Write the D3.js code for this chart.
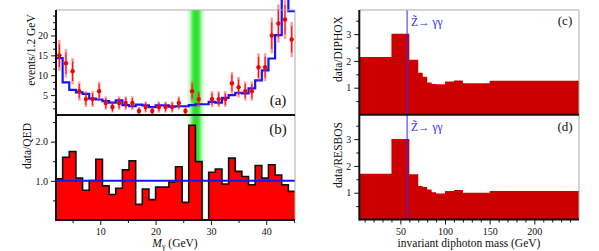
<!DOCTYPE html>
<html lang="en">
<head>
<meta charset="UTF-8">
<title>Diphoton mass spectra</title>
<script src="https://cdn.jsdelivr.net/npm/d3@7"></script>
<style>
    * { margin: 0; padding: 0; }
    body { background: #fff; }
    svg text { font-family: "Liberation Serif", "DejaVu Serif", serif; fill: #111; }
</style>
</head>
<body>
<svg id="chart" width="599" height="251"></svg>
<script>
    // left panels: M_gamma in 1.2 GeV bins
    const massEdges = [2.0,3.2,4.4,5.6,6.8,8.0,9.2,10.4,11.6,12.8,14.0,15.2,16.4,17.6,18.8,20.0,21.2,22.4,23.6,24.8,
                       26.0,27.2,28.4,29.6,30.8,32.0,33.2,34.4,35.6,36.8,38.0,39.2,40.4,41.6,42.8,44.0,45.2];
    const eventCounts = [15,13,11,6,4,4,6,3,2,3,3,3,1,2,1,2,2,2,3,1,6,4,0,4,4,4,8,7,6,6,12,12,20,23,24,19];
    const countErrors = [3.9,3.6,3.3,2.4,2.0,2.0,2.4,1.7,1.4,1.7,1.7,1.7,1.0,1.4,1.0,1.4,1.4,1.4,1.7,1.0,
                         2.4,2.0,0,2.0,2.0,2.0,2.8,2.6,2.4,2.4,3.5,3.5,4.5,4.8,4.9,4.4];
    const qedPrediction = [14.3,8.2,6.3,5.7,5.3,4.1,3.9,3.5,3.1,3.7,2.5,2.2,2.6,2.4,2.0,2.4,2.4,2.1,2.2,2.2,
                           2.5,2.7,2.7,3.3,3.1,4.3,5.0,5.6,5.4,6.7,8.7,11.2,14.2,20.1,30,26.1];
    const dataOverQed = [1.05,1.60,1.75,1.07,0.76,1.01,1.55,0.87,0.65,0.81,1.28,1.51,0.40,0.79,0.52,0.84,0.84,0.97,
                         1.36,0.45,2.42,1.49,0,1.22,1.30,0.92,1.58,1.24,1.11,0.90,1.39,1.07,1.41,1.15,0.90,0.73];
    const bandCenter = 27.3;
    const bandHalfWidth = 1.75;

    const massTicks = [10, 20, 30, 40];
    const massMinorTicks = [5, 15, 25, 35, 45];
    const eventTicks = [5, 10, 15, 20];
    const eventMinorTicks = [1.67, 3.33, 6.67, 8.33, 11.67, 13.33, 16.67, 18.33, 21.67, 23.33, 25];
    const qedRatioTicks = [1, 2];
    const qedRatioLabels = ['1.0', '2.0'];
    const qedRatioMinorTicks = [0.5, 1.5, 2.5];

    // right panels: invariant diphoton mass
    const diphotonEdges = [4, 40, 60, 70, 75, 80, 85, 90, 100, 110, 120, 150, 250];
    const dataOverDiphox = [2.15, 3.01, 2.04, 1.56, 1.41, 1.19, 1.14, 1.13, 1.23, 1.27, 1.17, 1.26];
    const dataOverResbos = [1.71, 3.00, 1.69, 1.25, 1.21, 1.12, 1.02, 0.97, 1.06, 1.10, 1.00, 1.06];
    const zTildeMass = 57.5;

    const diphotonTicks = [50, 100, 150, 200];
    const diphotonMinorTicks = [10, 20, 30, 40, 60, 70, 80, 90, 110, 120, 130, 140, 160, 170, 180, 190, 210, 220, 230, 240];
    const rightRatioTicks = [1, 2, 3];
    const rightRatioMinorTicks = [0.5, 1.5, 2.5, 3.5];

    const svg = d3.select('#chart');

    const xL = d3.scaleLinear([2, 45.2], [56, 295]);
    const yA = d3.scaleLinear([0, 26.4], [115, 10]);
    const yB = d3.scaleLinear([0, 2.68], [220, 115]);
    const xR = d3.scaleLinear([4, 250], [359.3, 579]);
    const yC = d3.scaleLinear([0, 3.9], [114.5, 10]);
    const yD = d3.scaleLinear([0, 3.9], [219.5, 115]);

    // step helpers: one point per lower edge, plus the last upper edge
    function stepPoints(edges, vals) {
        const pts = vals.map((v, i) => [edges[i], v]);
        pts.push([edges[edges.length - 1], vals[vals.length - 1]]);
        return pts;
    }
    function stepLine(x, y) {
        return d3.line().curve(d3.curveStepAfter).x(d => x(d[0])).y(d => y(d[1]));
    }
    function stepArea(x, y) {
        return d3.area().curve(d3.curveStepAfter).x(d => x(d[0])).y0(y(0)).y1(d => y(d[1]));
    }

    // green band gradient
    const defs = svg.append('defs');
    const grad = defs.append('linearGradient').attr('id', 'band').attr('x1', 0).attr('x2', 1).attr('y1', 0).attr('y2', 0);
    [[0, 0], [0.18, 0.25], [0.35, 0.85], [0.5, 1], [0.65, 0.85], [0.82, 0.25], [1, 0]].forEach(s => {
        grad.append('stop').attr('offset', s[0]).attr('stop-color', '#22e022').attr('stop-opacity', s[1]);
    });

    svg.append('rect')
        .attr('x', xL(bandCenter - bandHalfWidth))
        .attr('width', xL(bandCenter + bandHalfWidth) - xL(bandCenter - bandHalfWidth))
        .attr('y', 10).attr('height', 210)
        .attr('fill', 'url(#band)');

    // (a) QED prediction
    svg.append('path')
        .attr('d', stepLine(xL, yA)(stepPoints(massEdges, qedPrediction)))
        .attr('fill', 'none').attr('stroke', '#1414ff').attr('stroke-width', 2.2);

    // (a) data points with errors
    const centers = eventCounts.map((c, i) => (massEdges[i] + massEdges[i + 1]) / 2);
    const pts = svg.append('g');
    eventCounts.forEach((c, i) => {
        if (c === 0) return;
        const cx = xL(centers[i]);
        pts.append('line').attr('x1', cx).attr('x2', cx)
            .attr('y1', yA(c - countErrors[i])).attr('y2', yA(c + countErrors[i]))
            .attr('stroke', 'rgba(255,40,40,0.45)').attr('stroke-width', 2.6);
        pts.append('line').attr('x1', cx).attr('x2', cx)
            .attr('y1', yA(c - countErrors[i] * 0.75)).attr('y2', yA(c + countErrors[i] * 0.75))
            .attr('stroke', '#f21010').attr('stroke-width', 1.1);
        pts.append('circle').attr('cx', cx).attr('cy', yA(c)).attr('r', 2.2).attr('fill', '#f40000');
    });

    // (b) ratio data/QED
    const ratioPts = stepPoints(massEdges, dataOverQed);
    svg.append('path').attr('d', stepArea(xL, yB)(ratioPts)).attr('fill', '#ff0000');
    svg.append('path').attr('d', stepLine(xL, yB)(ratioPts))
        .attr('fill', 'none').attr('stroke', '#111').attr('stroke-width', 1.6);
    svg.append('line').attr('x1', xL(2)).attr('x2', xL(45.2)).attr('y1', yB(1)).attr('y2', yB(1))
        .attr('stroke', '#1414ff').attr('stroke-width', 2);

    // (c) and (d)
    svg.append('path').attr('d', stepArea(xR, yC)(stepPoints(diphotonEdges, dataOverDiphox))).attr('fill', '#cc0000');
    svg.append('path').attr('d', stepArea(xR, yD)(stepPoints(diphotonEdges, dataOverResbos))).attr('fill', '#cc0000');
    svg.append('line').attr('x1', xR(zTildeMass)).attr('x2', xR(zTildeMass)).attr('y1', 10).attr('y2', 219.5)
        .attr('stroke', '#2a2aff').attr('stroke-width', 1);

    // frames
    function frame(x0, x1, y0, y1, mids) {
        svg.append('path').attr('d', `M${x0},${y0}H${x1}V${y1}`).attr('fill', 'none').attr('stroke', '#aaa').attr('stroke-width', 1);
        svg.append('line').attr('x1', x0).attr('x2', x0).attr('y1', y0).attr('y2', y1 + 1).attr('stroke', '#111').attr('stroke-width', 2);
        [...mids, y1].forEach(yy => {
            svg.append('line').attr('x1', x0).attr('x2', x1).attr('y1', yy).attr('y2', yy).attr('stroke', '#111').attr('stroke-width', 2);
        });
    }
    frame(56, 295, 10, 220, [115]);
    frame(359.3, 579, 10, 219.5, [114.8]);

    // axes
    function axis(gen, transform, values, labels, size) {
        const a = gen.tickValues(values).tickSize(size).tickPadding(3)
            .tickFormat((d, i) => labels ? labels[i] : '');
        const g = svg.append('g').attr('transform', transform).call(a);
        g.select('.domain').remove();
        g.selectAll('.tick line').attr('stroke', '#111');
        g.selectAll('.tick text').attr('font-size', 10).attr('fill', '#111')
            .style('font-family', '"Liberation Serif", serif');
        return g;
    }
    axis(d3.axisLeft(yA), 'translate(56,0)', eventTicks, eventTicks.map(String), 5);
    axis(d3.axisLeft(yA), 'translate(56,0)', eventMinorTicks, null, 3);
    axis(d3.axisLeft(yB), 'translate(56,0)', qedRatioTicks, qedRatioLabels, 5);
    axis(d3.axisLeft(yB), 'translate(56,0)', qedRatioMinorTicks, null, 3);
    axis(d3.axisBottom(xL), 'translate(0,220)', massTicks, massTicks.map(String), 5);
    axis(d3.axisBottom(xL), 'translate(0,220)', massMinorTicks, null, 3);

    axis(d3.axisLeft(yC), 'translate(359.3,0)', rightRatioTicks, rightRatioTicks.map(String), 5);
    axis(d3.axisLeft(yC), 'translate(359.3,0)', rightRatioMinorTicks, null, 3);
    axis(d3.axisLeft(yD), 'translate(359.3,0)', rightRatioTicks, rightRatioTicks.map(String), 5);
    axis(d3.axisLeft(yD), 'translate(359.3,0)', rightRatioMinorTicks, null, 3);
    axis(d3.axisBottom(xR), 'translate(0,219.5)', diphotonTicks, diphotonTicks.map(String), 5);
    axis(d3.axisBottom(xR), 'translate(0,219.5)', diphotonMinorTicks, null, 3);

    // panel tags
    [['(a)', 278, 105, 15], ['(b)', 278, 134, 15], ['(c)', 565, 25, 13], ['(d)', 565, 131, 13]].forEach(t => {
        svg.append('text').attr('x', t[1]).attr('y', t[2]).attr('text-anchor', 'middle')
            .attr('font-size', t[3]).text(t[0]);
    });

    // Z~ -> gamma gamma labels
    [26, 131].forEach(yy => {
        const t = svg.append('text').attr('x', 411).attr('y', yy).attr('font-size', 11.5).style('fill', '#2a2aff');
        t.append('tspan').text('Z\u0303');
        t.append('tspan').text('\u2192 \u03b3\u03b3');
    });

    // axis titles
    function yTitle(txt, x, y, size) {
        svg.append('text').attr('transform', `translate(${x},${y}) rotate(-90)`)
            .attr('text-anchor', 'middle').attr('font-size', size).text(txt);
    }
    yTitle('events/1.2 GeV', 34.5, 50, 11.5);
    yTitle('data/QED', 30.5, 146, 11.5);
    yTitle('data/DIPHOX', 341.5, 49, 11.5);
    yTitle('data/RESBOS', 341.5, 155, 11.5);

    const mt = svg.append('text').attr('x', 175).attr('y', 246.5).attr('text-anchor', 'middle').attr('font-size', 11.5);
    mt.append('tspan').attr('font-style', 'italic').text('M');
    mt.append('tspan').attr('font-size', 8).attr('dy', 2).text('\u03b3');
    mt.append('tspan').attr('dy', -2).text(' (GeV)');

    svg.append('text').attr('x', 469).attr('y', 246.5).attr('text-anchor', 'middle').attr('font-size', 11.5)
        .text('invariant diphoton mass (GeV)');
</script>
</body>
</html>
